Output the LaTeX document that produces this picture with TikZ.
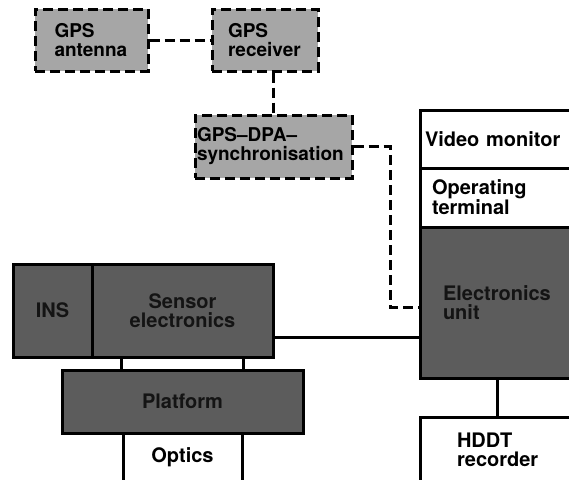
\documentclass[tikz,border=0pt]{standalone}
\usepackage{fontspec}
\setmainfont{TeX Gyre Heros}

\begin{document}
\begin{tikzpicture}[x=1pt,y=-1pt,
    every node/.style={font=\bfseries\fontsize{20}{19}\selectfont, align=left, inner sep=0pt},
    gpsbox/.style={draw, line width=3pt, dash pattern=on 10pt off 5pt, fill=black!35,
                   font=\bfseries\fontsize{19}{19}\selectfont},
    darkbox/.style={draw, line width=3pt, fill=black!64, text=black!92, align=center},
    whitebox/.style={draw, line width=3pt, fill=white},
    gpsline/.style={line width=3pt, dash pattern=on 10pt off 5pt},
    link/.style={line width=3pt}]
                \useasboundingbox (0,0) rectangle (569,479);
                \clip (0,0) rectangle (569,479);

                % GPS chain
                \node[gpsbox, minimum width=113pt, minimum height=62pt, text width=74pt] (ant) at (91.5,40) {GPS\\antenna};
                \node[gpsbox, minimum width=106pt, minimum height=62pt, text width=74pt] (rec) at (265,40) {GPS\\receiver};
                \node[gpsbox, minimum width=157pt, minimum height=63pt, text width=153pt] (sync) at (273.5,146.5) {GPS--DPA--\\synchronisation};

                % right column
                \node[whitebox, minimum width=180pt, minimum height=58pt, text width=170pt] (video) at (510,139) {Video monitor};
                \node[whitebox, minimum width=180pt, minimum height=59pt, text width=156pt] (term) at (510,197.5) {Operating\\terminal};
                \node[darkbox, minimum width=180pt, minimum height=151pt, text width=134pt, align=left] (eu) at (510,302.5) {Electronics\\unit};
                \node[whitebox, minimum width=180pt, minimum height=65pt, text width=106pt] (hddt) at (510,449.5) {HDDT\\recorder};

                % sensor head
                \node[darkbox, minimum width=79pt, minimum height=93pt] (ins) at (52.5,310.5) {INS};
                \node[darkbox, minimum width=181pt, minimum height=93pt] (sensor) at (182.5,310.5) {Sensor\\electronics};
                \node[darkbox, minimum width=241pt, minimum height=63pt] (platform) at (182.5,401.5) {Platform};
                \node[whitebox, minimum width=119pt, minimum height=49pt] (optics) at (182.5,457.5) {Optics};

                \coordinate (knee) at (390,307);

                \draw[gpsline] (ant) -- (rec);
                \draw[gpsline] (rec.south -| sync.north) -- (sync.north);
                \draw[gpsline] (sync.east) -| (knee) -- (knee -| eu.west);

                \draw[link] ([yshift=-26.5pt]sensor.east) -- ([yshift=-26.5pt]sensor.east -| eu.west);
                \draw[link] (sensor.south -| optics.west) -- (platform.north -| optics.west);
                \draw[link] (sensor.south -| optics.east) -- (platform.north -| optics.east);
                \draw[link] ([xshift=-13pt]eu.south) -- ([xshift=-13pt]eu.south |- hddt.north);
\end{tikzpicture}
\end{document}
